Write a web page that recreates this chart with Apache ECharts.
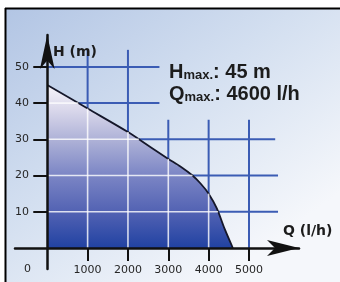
<!DOCTYPE html>
<html style="height: 100%">
<head>
  <meta charset="UTF-8">
  <title>Pump curve</title>
  <script src="https://cdn.jsdelivr.net/npm/echarts@6/dist/echarts.min.js"></script>
</head>
<body style="height: 100%; margin: 0">
<div id="main" style="width: 340px; height: 282px"></div>

<script>
  // flow (l/h) and head (m)
  const flowQ = [0, 1000, 2000, 2500, 3000, 3300, 3600, 3800, 4000, 4200, 4400, 4600];
  const headH = [45, 38.5, 32, 28.3, 24.6, 22.5, 20, 17.8, 15, 11, 5.2, 0];
  const qTicks = [1000, 2000, 3000, 4000, 5000];
  const hTicks = [10, 20, 30, 40, 50];
  const hMax = 45;
  const qMax = 4600;

  // how far each blue grid line runs (leaves room for the text box)
  const hLineEnd = {50: 2780, 40: 2780, 30: 5650, 20: 5720, 10: 5720};
  const qLineEnd = {1000: 54.7, 2000: 54.7, 3000: 35.4, 4000: 35.4, 5000: 35.4};

  function headAt(q) {
    for (let i = 1; i < flowQ.length; i++) {
      if (q <= flowQ[i]) {
        const t = (q - flowQ[i - 1]) / (flowQ[i] - flowQ[i - 1]);
        return headH[i - 1] + t * (headH[i] - headH[i - 1]);
      }
    }
    return 0;
  }
  function flowAt(h) {
    for (let i = 1; i < headH.length; i++) {
      if (h >= headH[i]) {
        const t = (headH[i - 1] - h) / (headH[i - 1] - headH[i]);
        return flowQ[i - 1] + t * (flowQ[i] - flowQ[i - 1]);
      }
    }
    return 0;
  }

  const blueLines = [];
  const whiteLines = [];
  hTicks.forEach(h => {
    blueLines.push([0, h, hLineEnd[h], h]);
    if (h < hMax) whiteLines.push([0, h, flowAt(h), h]);
  });
  qTicks.forEach(q => {
    blueLines.push([q, 0, q, qLineEnd[q]]);
    if (q < qMax) whiteLines.push([q, 0, q, headAt(q)]);
  });

  function segment(color, width) {
    return function (params, api) {
      const p1 = api.coord([api.value(0), api.value(1)]);
      const p2 = api.coord([api.value(2), api.value(3)]);
      return {
        type: 'line',
        shape: {x1: p1[0], y1: p1[1], x2: p2[0], y2: p2[1]},
        style: {stroke: color, lineWidth: width}
      };
    };
  }

  const labelFont = {fontFamily: 'DejaVu Sans', fontSize: 11, color: '#262626', formatter: v => String(v)};

  const option = {
    animation: false,
    graphic: [
      {
        type: 'rect', z: -10,
        shape: {x: 5, y: 8, width: 340, height: 280},
        style: {
          fill: new echarts.graphic.LinearGradient(0, 0, 0.6, 1, [
            {offset: 0, color: '#b2c5e4'},
            {offset: 0.5, color: '#d3dff0'},
            {offset: 1, color: '#f5f7fb'}
          ])
        }
      },
      {type: 'line', z: 20, shape: {x1: 5, y1: 8.5, x2: 340, y2: 8.5}, style: {stroke: '#000', lineWidth: 2}},
      {type: 'line', z: 20, shape: {x1: 5.5, y1: 8, x2: 5.5, y2: 282}, style: {stroke: '#000', lineWidth: 2}},
      {
        type: 'text', z: 20, left: 53, top: 45,
        style: {text: 'H (m)', font: 'bold 14px "DejaVu Sans"', fill: '#1c1c1c'}
      },
      {
        type: 'text', z: 20, left: 283, top: 224,
        style: {text: 'Q (l/h)', font: 'bold 14px "DejaVu Sans"', fill: '#1c1c1c'}
      },
      {
        type: 'text', z: 20, left: 24, top: 264,
        style: {text: '0', font: '11px "DejaVu Sans"', fill: '#262626'}
      },
      {
        type: 'text', z: 20, left: 169, top: 62,
        style: {
          text: '{b|H}{s|max.}{b|: ' + hMax + ' m}\n{b|Q}{s|max.}{b|: ' + qMax + ' l/h}',
          rich: {
            b: {font: 'bold 20px "Liberation Sans"', fill: '#1c1c1c', lineHeight: 22, verticalAlign: 'bottom'},
            s: {font: 'bold 13px "Liberation Sans"', fill: '#1c1c1c', lineHeight: 22, verticalAlign: 'bottom'}
          }
        }
      }
    ],
    grid: {left: 15, right: 41, top: 35, bottom: 13, outerBoundsMode: 'none', containLabel: false},
    xAxis: {
      type: 'value',
      min: -800,
      max: 6240,
      z: 10,
      axisLine: {
        onZero: true,
        symbol: ['none', 'arrow'],
        symbolSize: [12, 32],
        lineStyle: {color: '#111', width: 2.5}
      },
      axisTick: {show: true, length: 13, customValues: qTicks, lineStyle: {color: '#111', width: 2}},
      axisLabel: Object.assign({customValues: qTicks, margin: -4}, labelFont),
      splitLine: {show: false}
    },
    yAxis: {
      type: 'value',
      min: -5.8,
      max: 58.8,
      z: 10,
      axisLine: {
        show: true,
        onZero: true,
        symbol: ['none', 'arrow'],
        symbolSize: [11, 34],
        lineStyle: {color: '#111', width: 2.5}
      },
      axisTick: {show: true, length: 14, customValues: hTicks, lineStyle: {color: '#111', width: 2}},
      axisLabel: Object.assign({customValues: hTicks, margin: -14}, labelFont),
      splitLine: {show: false}
    },
    series: [
      {
        type: 'custom',
        z: 1,
        silent: true,
        renderItem: segment('#3b5cb4', 2),
        data: blueLines
      },
      {
        type: 'line',
        z: 2,
        data: flowQ.map((q, i) => [q, headH[i]]),
        smooth: 0.3,
        showSymbol: false,
        lineStyle: {color: '#15172a', width: 1.8},
        areaStyle: {
          opacity: 1,
          color: new echarts.graphic.LinearGradient(0, 0, 0, 1, [
            {offset: 0, color: '#f7f5fa'},
            {offset: 0.15, color: '#dad8eb'},
            {offset: 0.35, color: '#abafd6'},
            {offset: 0.55, color: '#7c86c5'},
            {offset: 0.78, color: '#5262b3'},
            {offset: 1, color: '#2142a2'}
          ])
        }
      },
      {
        type: 'custom',
        z: 3,
        silent: true,
        renderItem: segment('rgba(255,255,255,0.8)', 1.6),
        data: whiteLines
      }
    ]
  };

  const chart = echarts.init(document.getElementById('main'));
  chart.setOption(option);
</script>
</body>
</html>
